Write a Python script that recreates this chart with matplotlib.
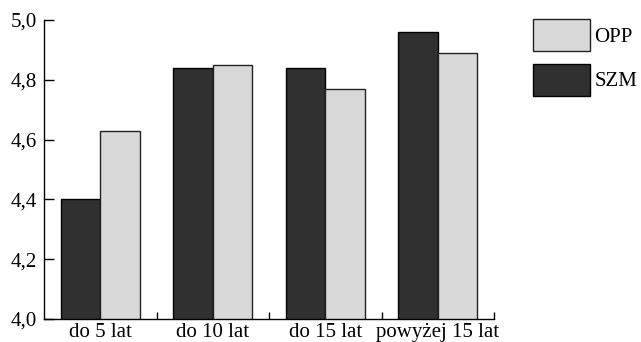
import numpy as np
import matplotlib
matplotlib.use('Agg')
from matplotlib import pyplot as plt
from matplotlib.ticker import FuncFormatter, FixedLocator

# data
categories = ['do 5 lat', 'do 10 lat', 'do 15 lat', 'powyżej 15 lat']
szm_values = [4.40, 4.84, 4.84, 4.96]
opp_values = [4.63, 4.85, 4.77, 4.89]

plt.rcParams['font.family'] = ['Liberation Serif', 'DejaVu Serif']
plt.rcParams['font.size'] = 15

fig = plt.figure(figsize=(6.41, 3.42), dpi=100)
ax = fig.add_axes([44 / 641, 1 - 319 / 342, 450 / 641, 299 / 342])

x = np.arange(len(categories))
w = 0.35
ax.bar(x - w / 2, szm_values, w, color='#303030', edgecolor='black', linewidth=1, label='SZM', zorder=2)
ax.bar(x + w / 2, opp_values, w, color='#d9d9d9', edgecolor='#222222', linewidth=1, label='OPP', zorder=2)

ax.set_ylim(4.0, 5.0)
ax.set_xlim(-0.5, 3.5)
ax.set_yticks(np.arange(4.0, 5.01, 0.2))
ax.yaxis.set_major_formatter(FuncFormatter(lambda v, p: ('%.1f' % v).replace('.', ',')))
ax.tick_params(axis='y', direction='in', length=7.5, width=1, pad=5)

ax.set_xticks(x)
ax.set_xticklabels(categories)
ax.tick_params(axis='x', which='major', length=0, pad=3)
ax.xaxis.set_minor_locator(FixedLocator([0.5, 1.5, 2.5, 3.5]))
ax.tick_params(axis='x', which='minor', direction='in', length=5, width=1)

for s in ['top', 'right']:
    ax.spines[s].set_visible(False)
for s in ['left', 'bottom']:
    ax.spines[s].set_linewidth(1)

handles, labels = ax.get_legend_handles_labels()
fig.legend(handles[::-1], labels[::-1], loc='upper left',
           bbox_to_anchor=(533 / 641, 1 - 19 / 342), frameon=False,
           borderpad=0, borderaxespad=0, handlelength=2.75, handleheight=2.0,
           labelspacing=0.6, handletextpad=0.2, fontsize=15)

plt.savefig('out.png', dpi=100)
